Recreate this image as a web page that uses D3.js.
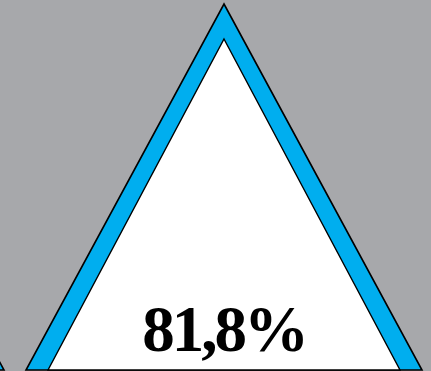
<!DOCTYPE html>
<html>
<head>
<meta charset="utf-8">
<script src="https://cdn.jsdelivr.net/npm/d3@7"></script>
<style>
  html, body { margin: 0; padding: 0; background: #a7a8ab; }
  svg { display: block; }
</style>
</head>
<body>
<svg id="chart" width="431" height="371"></svg>
<script>
// Data
const categories = ["previous", "current"];
const values = [null, 81.8];
const valueLabels = ["", "81,8%"];

const W = 431, H = 371;
const svg = d3.select("#chart");

svg.append("rect").attr("width", W).attr("height", H).attr("fill", "#a7a8ab");

// Position scale for triangles (one per category)
const x = d3.scalePoint().domain(categories).range([-194, 224]);
// Vertical scale for triangle geometry (0 = base, 1 = apex)
const y = d3.scaleLinear().domain([0, 1]).range([370, 4]);

const outerHalf = 198, innerHalf = 176, innerApex = 39;

const g = svg.selectAll("g.tri")
  .data(categories.map((c, i) => ({ c, v: values[i], label: valueLabels[i] })))
  .join("g")
  .attr("class", "tri")
  .attr("transform", d => `translate(${x(d.c)},0)`);

const line = d3.line();

g.append("path")
  .attr("d", d => line([[0, y(1)], [outerHalf, y(0)], [-outerHalf, y(0)]]) + "Z")
  .attr("fill", "#00aeef")
  .attr("stroke", "#000")
  .attr("stroke-width", 1.6)
  .attr("stroke-linejoin", "miter");

g.append("path")
  .attr("d", d => line([[0, innerApex], [innerHalf, y(0)], [-innerHalf, y(0)]]) + "Z")
  .attr("fill", "#ffffff")
  .attr("stroke", "#000")
  .attr("stroke-width", 1.4);

g.append("text")
  .attr("x", 0)
  .attr("y", 351)
  .attr("text-anchor", "middle")
  .attr("font-family", "'Liberation Serif', 'DejaVu Serif', serif")
  .attr("font-weight", "bold")
  .attr("font-size", 65)
  .attr("letter-spacing", -3)
  .attr("fill", "#000")
  .text(d => d.label);
</script>
</body>
</html>
